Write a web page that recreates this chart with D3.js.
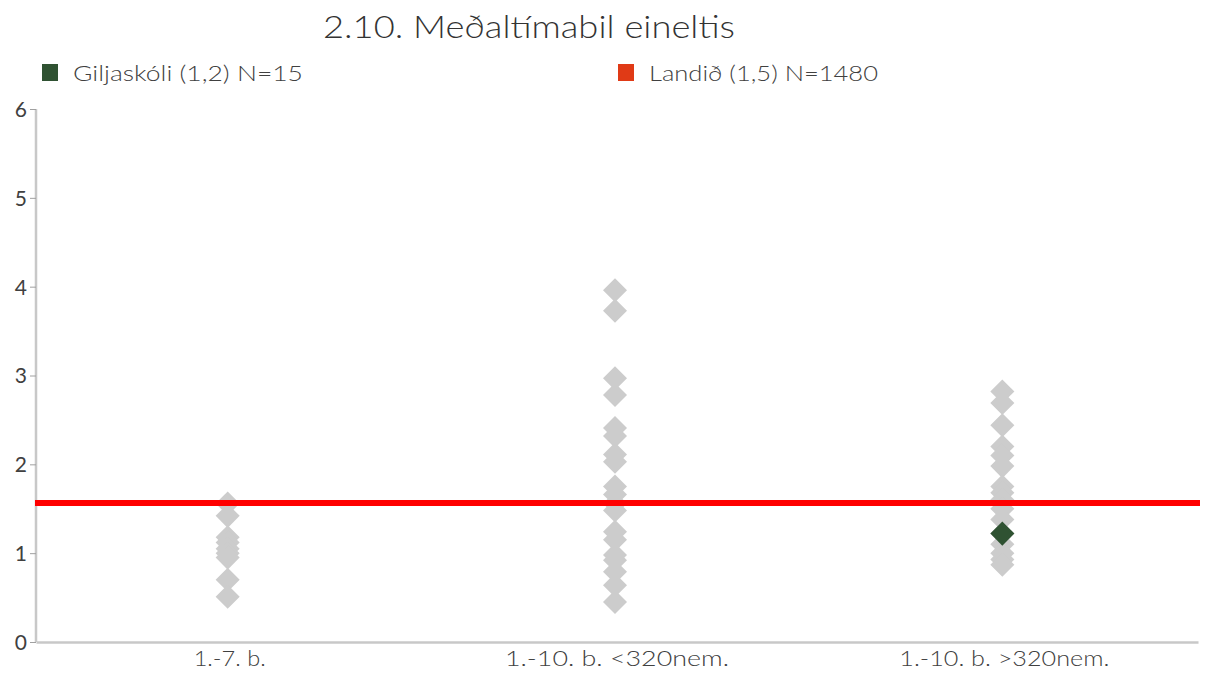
<!DOCTYPE html>
<html><head><meta charset="utf-8">
<script src="https://cdn.jsdelivr.net/npm/d3@7"></script>
<style>body{margin:0;background:#fff}svg{display:block}</style>
</head><body>
<script>
const title = "2.10. Meðaltímabil eineltis";
const categories = ["1.-7. b.", "1.-10. b. <320nem.", "1.-10. b. >320nem."];
const schoolsA = [1.56, 1.42, 1.18, 1.12, 1.05, 1.0, 0.95, 0.70, 0.51];
const schoolsB = [3.96, 3.73, 2.97, 2.78, 2.41, 2.32, 2.11, 2.03, 1.75, 1.66, 1.56, 1.48, 1.24, 1.15, 0.98, 0.92, 0.79, 0.64, 0.45];
const schoolsC = [2.82, 2.69, 2.44, 2.2, 2.1, 1.98, 1.75, 1.68, 1.6, 1.5, 1.38, 1.22, 1.1, 1.0, 0.93, 0.87];
const schoolSeries = [schoolsA, schoolsB, schoolsC];
const highlightName = "Giljaskóli (1,2) N=15";
const highlightCategory = "1.-10. b. >320nem.";
const highlightValue = 1.22;
const nationalName = "Landið (1,5) N=1480";
const nationalValue = 1.565;
const yTicks = [0, 1, 2, 3, 4, 5, 6];

const W = 1210, H = 673;
const svg = d3.select("body").append("svg").attr("width", W).attr("height", H);
const font = "Lato, 'Open Sans', sans-serif";
const m = {left: 36, right: 1198, top: 109, bottom: 642};

const x = d3.scaleBand().domain(categories).range([m.left, m.right]);
const y = d3.scaleLinear().domain([0, 6]).range([m.bottom, m.top]);

// title
svg.append("text").attr("x", 529).attr("y", 38).attr("text-anchor", "middle")
  .attr("font-family", font).attr("font-weight", 300).attr("font-size", 31)
  .attr("fill", "#333333").attr("textLength", 412).attr("lengthAdjust", "spacingAndGlyphs").text(title);

// legend
const legend = [
  {name: highlightName, color: "#2f5232", x: 42, tw: 230},
  {name: nationalName, color: "#e03a16", x: 618, tw: 229}
];
legend.forEach(l => {
  svg.append("rect").attr("x", l.x).attr("y", 64).attr("width", 16).attr("height", 17).attr("fill", l.color);
  svg.append("text").attr("x", l.x + 31).attr("y", 81).attr("font-family", font).attr("font-weight", 300).attr("font-size", 22)
    .attr("fill", "#404040").attr("textLength", l.tw).attr("lengthAdjust", "spacingAndGlyphs").text(l.name);
});

// axes
const yAxis = svg.append("g").attr("transform", `translate(${m.left},0)`)
  .call(d3.axisLeft(y).tickValues(yTicks).tickSize(6).tickPadding(3).tickFormat(d3.format("d")));
yAxis.select(".domain").attr("stroke", "#c8c8c8").attr("stroke-width", 2.5).attr("d", `M0,${m.top}V${m.bottom}`);
yAxis.selectAll(".tick line").attr("stroke", "#a0a0a0");
yAxis.selectAll(".tick text").attr("font-family", font).attr("font-size", 21).attr("fill", "#404040").attr("dy", "0.35em");

const labelWidths = [72, 224, 210];
const xAxis = svg.append("g").attr("transform", `translate(0,${m.bottom})`)
  .call(d3.axisBottom(x).tickSize(0).tickPadding(9));
xAxis.select(".domain").attr("stroke", "#c8c8c8").attr("stroke-width", 2.5);
xAxis.selectAll(".tick text").attr("font-family", font).attr("font-weight", 300).attr("font-size", 21).attr("fill", "#404040")
  .attr("textLength", (d, i) => labelWidths[i]).attr("lengthAdjust", "spacingAndGlyphs");

// grey diamonds
const diamond = d3.symbol().type(d3.symbolSquare).size(17 * 17);
categories.forEach((c, i) => {
  svg.append("g").selectAll("path").data(schoolSeries[i]).join("path")
    .attr("d", diamond)
    .attr("transform", d => `translate(${x(c) + x.bandwidth() / 2 - 2},${y(d)}) rotate(45)`)
    .attr("fill", "#cccccc");
});

// national line
svg.append("line").attr("x1", m.left - 1).attr("x2", 1200)
  .attr("y1", y(nationalValue)).attr("y2", y(nationalValue))
  .attr("stroke", "#ff0000").attr("stroke-width", 6);

// highlight
svg.append("path").attr("d", diamond)
  .attr("transform", `translate(${x(highlightCategory) + x.bandwidth() / 2 - 2},${y(highlightValue)}) rotate(45)`)
  .attr("fill", "#2f5232");
</script>
</body></html>
